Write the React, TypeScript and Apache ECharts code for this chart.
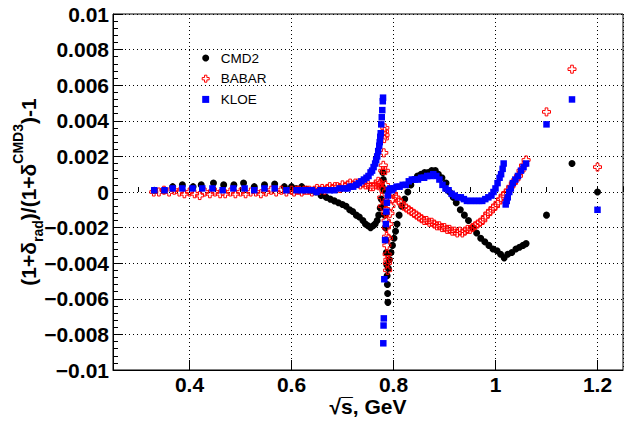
import React, { useEffect, useRef } from "react";
import * as echarts from "echarts";

// ---- axis ranges ----
const X_MIN = 0.25;
const X_MAX = 1.25;
const Y_MIN = -0.01;
const Y_MAX = 0.01;

// ---- series data (sqrt(s) in GeV, ratio) ----
const cmd2X = [
  0.331, 0.351, 0.367, 0.386, 0.407, 0.423, 0.447, 0.467, 0.487, 0.506, 0.527, 0.547, 0.567, 0.586, 0.6, 0.609,
  0.62, 0.629, 0.64, 0.648, 0.658, 0.668, 0.676, 0.684, 0.692, 0.7, 0.707, 0.714, 0.72, 0.727, 0.733, 0.74, 0.745,
  0.75, 0.755, 0.76, 0.764, 0.768, 0.771, 0.774, 0.776, 0.778, 0.779, 0.78, 0.781, 0.782, 0.783, 0.784, 0.785,
  0.786, 0.787, 0.7875, 0.788, 0.7885, 0.789, 0.79, 0.792, 0.795, 0.798, 0.801, 0.804, 0.807, 0.811, 0.816, 0.822,
  0.828, 0.834, 0.84, 0.847, 0.854, 0.861, 0.868, 0.875, 0.882, 0.888, 0.895, 0.903, 0.91, 0.917, 0.923, 0.931,
  0.939, 0.947, 0.955, 0.963, 0.971, 0.979, 0.987, 0.995, 1.003, 1.01, 1.017, 1.024, 1.032, 1.04, 1.047, 1.054,
  1.06, 1.1, 1.15, 1.2,
];
const cmd2Y = [
  0.0001, 0.0001, 0.0003, 0.0004, 0.0003, 0.0004, 0.0005, 0.0004, 0.0004, 0.0005, 0.0003, 0.0004, 0.00045, 0.0003,
  0.0003, 0.0002, 0.0003, 0.00015, 0.0001, 0.0, -0.0002, -0.0003, -0.0004, -0.0005, -0.0006, -0.0007, -0.0008,
  -0.001, -0.0011, -0.0013, -0.0014, -0.0016, -0.0018, -0.0019, -0.002, -0.0019, -0.0018, -0.0016, -0.0013,
  -0.0009, -0.0004, 0.0003, 0.0011, 0.0007, 0.0001, -0.0007, -0.0013, -0.002, -0.0027, -0.0034, -0.0041, -0.0047,
  -0.0052, -0.0057, -0.0062, -0.0043, -0.0038, -0.0034, -0.003, -0.0026, -0.0022, -0.0018, -0.0013, -0.0008,
  -0.0004, 0.0, 0.0004, 0.0007, 0.0009, 0.001, 0.0011, 0.0011, 0.0012, 0.0012, 0.001, 0.0008, 0.0005, 0.0,
  -0.0003, -0.0006, -0.001, -0.0013, -0.0016, -0.002, -0.0023, -0.0026, -0.0028, -0.003, -0.0032, -0.0033,
  -0.0035, -0.0037, -0.0035, -0.0034, -0.0032, -0.0031, -0.003, -0.0029, -0.0013, 0.0016, 0.0,
];

const babarX = [
  0.33, 0.34, 0.35, 0.36, 0.37, 0.38, 0.39, 0.4, 0.41, 0.42, 0.43, 0.44, 0.45, 0.46, 0.47, 0.48, 0.49, 0.5, 0.51,
  0.52, 0.53, 0.54, 0.55, 0.56, 0.57, 0.58, 0.59, 0.6, 0.605, 0.61, 0.615, 0.62, 0.625, 0.63, 0.635, 0.64, 0.645,
  0.65, 0.655, 0.66, 0.665, 0.67, 0.675, 0.68, 0.685, 0.69, 0.695, 0.7, 0.705, 0.71, 0.715, 0.72, 0.725, 0.73,
  0.735, 0.74, 0.745, 0.75, 0.755, 0.76, 0.765, 0.77, 0.772, 0.774, 0.776, 0.777, 0.778, 0.779, 0.78, 0.781, 0.782,
  0.7825, 0.783, 0.7835, 0.784, 0.7842, 0.785, 0.7845, 0.7855, 0.786, 0.7865, 0.787, 0.7875, 0.788, 0.7885, 0.789,
  0.79, 0.791, 0.793, 0.795, 0.798, 0.8, 0.805, 0.81, 0.815, 0.82, 0.825, 0.83, 0.835, 0.84, 0.845, 0.85, 0.855,
  0.86, 0.865, 0.87, 0.875, 0.88, 0.885, 0.89, 0.895, 0.9, 0.905, 0.91, 0.915, 0.92, 0.925, 0.93, 0.935, 0.94,
  0.945, 0.95, 0.955, 0.96, 0.965, 0.97, 0.975, 0.98, 0.985, 0.99, 0.995, 1.0, 1.005, 1.01, 1.015, 1.02, 1.025,
  1.03, 1.035, 1.04, 1.045, 1.05, 1.055, 1.06, 1.1, 1.15, 1.2,
];
const babarY = [
  0.0, 0.0, 0.0001, 0.0, 0.0001, 0.0, -0.0001, 0.0, -0.0001, -0.0002, 0.0, -0.0001, 0.0, -0.0001, -0.0001, 0.0,
  -0.0001, 0.0, -0.0001, 0.0, 0.0, -0.0001, 0.0, 0.0001, 0.0, 0.0001, 0.0, 0.0001, 0.0, 0.0001, 0.0001, 0.0,
  0.0001, 0.0001, 0.0001, 0.0, 0.0001, 0.0002, 0.0001, 0.0002, 0.0001, 0.0002, 0.0003, 0.0002, 0.0003, 0.0003,
  0.0002, 0.0004, 0.0003, 0.0004, 0.0005, 0.0004, 0.0005, 0.0005, 0.0004, 0.0005, 0.0004, 0.0004, 0.0003, 0.0003,
  0.0004, 0.0006, 0.0004, 0.0005, 0.0002, -0.0003, -0.0008, 0.0012, 0.0015, 0.0022, 0.003, 0.0034, 0.0036, 0.0032,
  0.0012, 0.0004, -0.0006, -0.0012, -0.0016, -0.002, -0.0025, -0.003, -0.0035, -0.004, -0.0044, -0.0038, -0.0026,
  -0.0018, -0.0012, -0.0008, -0.0004, -0.0001, -0.0003, -0.0005, -0.0006, -0.0008, -0.0009, -0.001, -0.0011,
  -0.0012, -0.0013, -0.0014, -0.0015, -0.0016, -0.0016, -0.0017, -0.0017, -0.0018, -0.0019, -0.0019, -0.002,
  -0.002, -0.0021, -0.0021, -0.0022, -0.0022, -0.0023, -0.0022, -0.0023, -0.0022, -0.0021, -0.0021, -0.002,
  -0.0019, -0.0018, -0.0017, -0.0016, -0.0014, -0.0012, -0.0011, -0.0009, -0.0008, -0.0006, -0.0004, -0.0002,
  -0.0001, 0.0001, 0.0003, 0.0005, 0.0007, 0.0009, 0.0012, 0.0015, 0.0018, 0.0045, 0.0069, 0.0014,
];

const kloeX = [
  0.331, 0.351, 0.367, 0.386, 0.406, 0.425, 0.445, 0.465, 0.486, 0.508, 0.527, 0.547, 0.567, 0.59, 0.61, 0.62,
  0.629, 0.64, 0.649, 0.657, 0.665, 0.675, 0.684, 0.694, 0.704, 0.71, 0.715, 0.721, 0.727, 0.732, 0.737, 0.742,
  0.747, 0.751, 0.755, 0.758, 0.761, 0.764, 0.766, 0.768, 0.77, 0.772, 0.773, 0.774, 0.775, 0.776, 0.777, 0.778,
  0.779, 0.7795, 0.78, 0.7805, 0.781, 0.782, 0.7835, 0.785, 0.786, 0.787, 0.789, 0.791, 0.794, 0.797, 0.8, 0.806,
  0.812, 0.818, 0.824, 0.83, 0.836, 0.842, 0.848, 0.854, 0.86, 0.866, 0.872, 0.878, 0.884, 0.89, 0.896, 0.902,
  0.908, 0.914, 0.92, 0.926, 0.932, 0.938, 0.944, 0.95, 0.956, 0.962, 0.968, 0.974, 0.98, 0.986, 0.992, 0.996, 1.0,
  1.004, 1.008, 1.011, 1.014, 1.016, 1.02, 1.022, 1.024, 1.027, 1.03, 1.034, 1.039, 1.044, 1.05, 1.055, 1.06, 1.1,
  1.15, 1.2,
];
const kloeY = [
  0.0001, 0.0001, 0.0002, 0.0002, 0.0002, 0.0002, 0.0002, 0.0001, 0.0002, 0.0002, 0.0001, 0.0002, 0.0002, 0.0001,
  0.0001, 0.0001, 0.0001, 0.0001, 0.0, 0.0001, 0.0001, 0.0001, 0.0001, 0.0002, 0.0002, 0.0002, 0.0003, 0.0003,
  0.0004, 0.0005, 0.0006, 0.0007, 0.0008, 0.0009, 0.0011, 0.0012, 0.0014, 0.0016, 0.0018, 0.002, 0.0023, 0.0026,
  0.0028, 0.0031, 0.0033, 0.0038, 0.0042, 0.0046, 0.0051, 0.0053, -0.0085, -0.0075, -0.0071, -0.0049, -0.0027,
  -0.0018, -0.0011, -0.0006, -0.0002, 0.0001, 0.0002, 0.0001, 0.0002, 0.0003, 0.0003, 0.0004, 0.0004, 0.0006,
  0.0007, 0.0007, 0.0007, 0.0008, 0.0008, 0.0009, 0.0009, 0.001, 0.0009, 0.0007, 0.0004, 0.0002, 0.0001, -0.0001,
  -0.0002, -0.0003, -0.0003, -0.0004, -0.0005, -0.0005, -0.0005, -0.0005, -0.0005, -0.0005, -0.0004, -0.0003,
  -0.0002, 0.0, 0.0002, 0.0005, 0.0008, 0.001, 0.0013, 0.0016, -0.0007, -0.0005, -0.0003, 0.0, 0.0002, 0.0005,
  0.0007, 0.0009, 0.0012, 0.0014, 0.0016, 0.0038, 0.0052, -0.001,
];

const seriesNames = ["CMD2", "BABAR", "KLOE"];

const zip = (xs: number[], ys: number[]) => xs.map((x, i) => [x, ys[i]]);

const OPEN_CROSS = "path://M1,0 L2,0 L2,1 L3,1 L3,2 L2,2 L2,3 L1,3 L1,2 L0,2 L0,1 L1,1 Z";
const SQUARE = "path://M0,0 L1,0 L1,1 L0,1 Z";

const FONT = "Liberation Sans";

const fmtTick = (v: number) => {
  const s = parseFloat(v.toFixed(4)).toString();
  return s.replace("-", "\u2212");
};

export default function App() {
  const ref = useRef<HTMLDivElement>(null);
  useEffect(() => {
    if (!ref.current) return;
    const chart = echarts.init(ref.current, undefined, { renderer: "svg" });
    const tickLabelStyle = {
      color: "#000",
      fontFamily: FONT,
      fontWeight: "bold" as const,
      fontSize: 21,
    };
    const gridLine = { show: true, lineStyle: { color: "#000", type: [1, 3] as any, width: 1 } };
    chart.setOption({
      animation: false,
      backgroundColor: "#fff",
      grid: {
        left: 113,
        right: 14,
        top: 14,
        bottom: 54,
        containLabel: false,
        outerBoundsMode: "none",
        show: true,
        borderColor: "#000",
        borderWidth: 1,
        backgroundColor: "transparent",
      },
      legend: {
        orient: "vertical",
        left: 201.7,
        top: 51,
        padding: 0,
        itemWidth: 20,
        itemHeight: 7,
        itemGap: 6.7,
        textStyle: { fontFamily: FONT, fontSize: 13.5, color: "#000", lineHeight: 14 },
        data: [
          { name: seriesNames[0] },
          { name: seriesNames[1], itemStyle: { borderWidth: 1 } },
          { name: seriesNames[2] },
        ],
      },
      xAxis: [
        {
          type: "value",
          min: X_MIN,
          max: X_MAX,
          splitNumber: 5,
          position: "bottom",
          axisLine: { show: true, onZero: false, lineStyle: { color: "#000", width: 1 } },
          axisTick: { show: true, inside: true, length: 10, lineStyle: { color: "#000" } },
          axisLabel: {
            ...tickLabelStyle,
            margin: 4,
            showMinLabel: false,
            showMaxLabel: false,
            formatter: (v: number) => fmtTick(v),
          },
          splitLine: gridLine,
          name: "\u221As\u0305, GeV",
          nameLocation: "middle",
          nameGap: 26,
          nameMoveOverlap: false,
          nameTextStyle: { ...tickLabelStyle },
        },
        {
          type: "value",
          min: X_MIN,
          max: X_MAX,
          interval: 0.05,
          position: "bottom",
          axisLine: { show: false },
          axisTick: { show: true, inside: true, length: 5, lineStyle: { color: "#000" } },
          axisLabel: { show: false },
          splitLine: { show: false },
        },
      ],
      yAxis: {
        type: "value",
        min: Y_MIN,
        max: Y_MAX,
        interval: 0.002,
        axisLine: { show: true, onZero: false, lineStyle: { color: "#000", width: 1 } },
        axisTick: { show: true, inside: true, length: 10, lineStyle: { color: "#000" } },
        minorTick: { show: true, splitNumber: 5, length: 5, lineStyle: { color: "#000" } },
        axisLabel: { ...tickLabelStyle, margin: 4, formatter: (v: number) => fmtTick(v) },
        splitLine: gridLine,
        name: "{m|(1+\u03B4}{sub|rad}{m|)/(1+\u03B4}{sup|CMD3}{m|)-1}",
        nameLocation: "middle",
        nameRotate: 90,
        nameGap: 68,
        nameMoveOverlap: false,
        nameTextStyle: {
          rich: {
            m: { fontFamily: FONT, fontWeight: "bold", fontSize: 21, color: "#000", lineHeight: 34 },
            sub: {
              fontFamily: FONT,
              fontWeight: "bold",
              fontSize: 14,
              color: "#000",
              lineHeight: 14,
              verticalAlign: "bottom",
            },
            sup: {
              fontFamily: FONT,
              fontWeight: "bold",
              fontSize: 14,
              color: "#000",
              lineHeight: 14,
              verticalAlign: "top",
            },
          },
        },
      },
      series: [
        {
          name: seriesNames[0],
          type: "scatter",
          data: zip(cmd2X, cmd2Y),
          symbol: "circle",
          symbolSize: 7,
          itemStyle: { color: "#000", opacity: 1 },
        },
        {
          name: seriesNames[1],
          type: "scatter",
          data: zip(babarX, babarY),
          symbol: OPEN_CROSS,
          symbolSize: 8,
          itemStyle: { color: "rgba(0,0,0,0)", borderColor: "#ff0000", borderWidth: 1, opacity: 1 },
        },
        {
          name: seriesNames[2],
          type: "scatter",
          data: zip(kloeX, kloeY),
          symbol: SQUARE,
          symbolSize: 6.5,
          itemStyle: { color: "#0000ff", opacity: 1 },
        },
      ],
    });
    return () => chart.dispose();
  }, []);
  return (
    <div
      ref={ref}
      style={{ position: "fixed", left: 0, top: 0, width: 637, height: 424, background: "#fff" }}
    />
  );
}
